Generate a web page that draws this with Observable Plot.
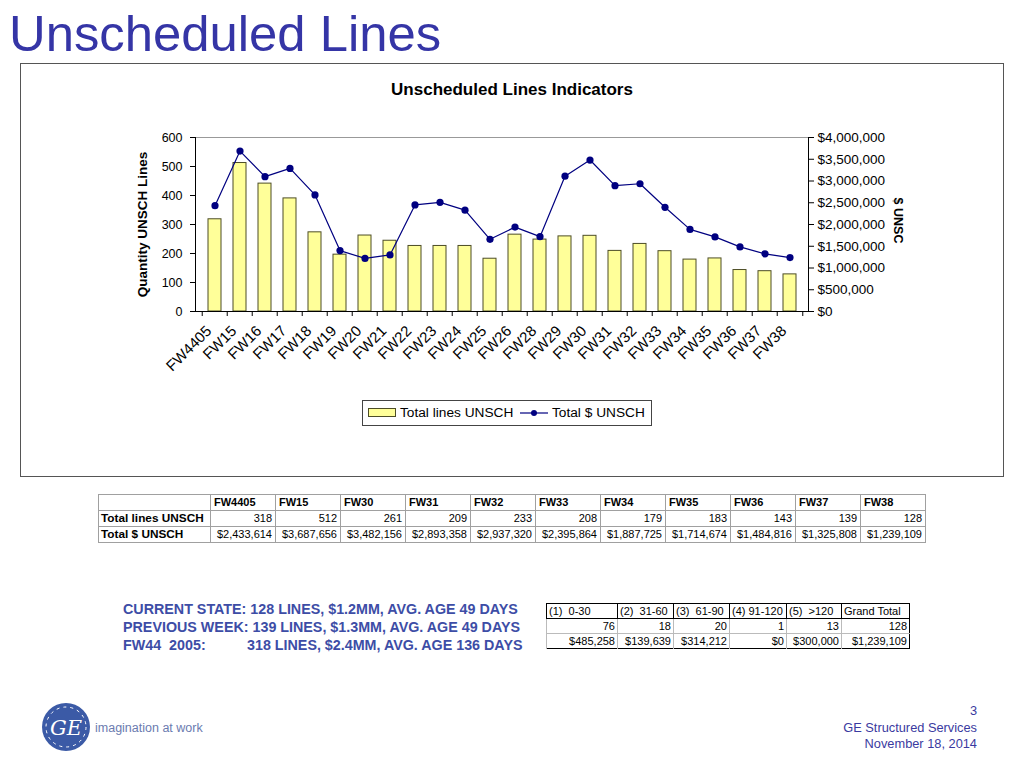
<!DOCTYPE html>
<html><head><meta charset="utf-8">
<script src="https://cdn.jsdelivr.net/npm/d3@7"></script>
<script src="https://cdn.jsdelivr.net/npm/@observablehq/plot@0.6"></script>
<style>
body{margin:0;background:#fff;font-family:"Liberation Sans",Arial,sans-serif;width:1024px;height:768px;position:relative;overflow:hidden;color:#000}
.abs{position:absolute}
#t1{border-collapse:collapse;font-size:11px;table-layout:fixed}
#t1 td{border:1px solid #a0a0a0;height:15px;padding:0 3px;white-space:nowrap;line-height:15px}
#t1 td.h{font-weight:bold;text-align:left}
#t1 td.r{font-weight:bold;text-align:left;font-size:11.8px;padding-left:2px}
#t1 td.v{text-align:right}
#t2{border-collapse:collapse;font-size:11px;table-layout:fixed;border:1.5px solid #000}
#t2 td{height:14px;padding:0 2px;white-space:nowrap;line-height:14px;text-align:right;border-left:1px solid #bbb;border-top:1px solid #bbb}
#t2 tr.hd td{border:1px solid #000;text-align:left}
#t2 td.gt{text-align:center}
.summary{color:#3d4da6;font-weight:bold;font-size:14.3px;line-height:18px}
.foot{color:#3a3aa0;font-size:12.8px;line-height:16.5px;text-align:right}
#legend span, #legend svg{position:absolute}
</style></head><body>
<div class="abs" style="left:9px;top:9px;font-size:50.8px;line-height:50px;color:#3535a6">Unscheduled Lines</div>
<div class="abs" style="left:20px;top:63px;width:984px;height:414px;border:1px solid #555;box-sizing:border-box"></div>
<div class="abs" style="left:0;top:81px;width:1024px;text-align:center;font-weight:bold;font-size:17px;line-height:17px">Unscheduled Lines Indicators</div>
<div id="chart" class="abs" style="left:100px;top:120px"></div>
<div id="legend" class="abs" style="left:362px;top:400px;width:290px;height:26px;border:1px solid #444;box-sizing:border-box;font-size:13.7px;line-height:16px"></div>
<table id="t1" class="abs" style="left:98px;top:494px"></table>
<div class="abs summary" style="left:123px;top:600px">
<div>CURRENT STATE: 128 LINES, $1.2MM, AVG. AGE 49 DAYS</div>
<div>PREVIOUS WEEK: 139 LINES, $1.3MM, AVG. AGE 49 DAYS</div>
<div><span style="display:inline-block;width:124px">FW44&nbsp; 2005:</span>318 LINES, $2.4MM, AVG. AGE 136 DAYS</div>
</div>
<table id="t2" class="abs" style="left:546px;top:603px"></table>
<svg class="abs" style="left:30px;top:695px" width="190" height="64">
<circle cx="36" cy="32" r="24" fill="#3b5aa6"/>
<circle cx="36" cy="32" r="20" fill="none" stroke="#fff" stroke-width="1" stroke-dasharray="3 4"/>
<text x="36" y="40" text-anchor="middle" fill="#fff" font-family="DejaVu Serif" font-style="italic" font-size="21">GE</text>
<text x="65" y="37" fill="#6b7bb0" font-family="Liberation Sans" font-size="12.5">imagination at work</text>
</svg>
<div class="abs foot" style="right:47px;top:703px">3<br>GE Structured Services<br>November 18, 2014</div>
<script>
const weeks = ["FW4405","FW15","FW16","FW17","FW18","FW19","FW20","FW21","FW22","FW23","FW24","FW25","FW26","FW28","FW29","FW30","FW31","FW32","FW33","FW34","FW35","FW36","FW37","FW38"];
const totalLines = [318,512,441,390,273,196,262,244,226,226,226,182,265,248,259,261,209,233,208,179,183,143,139,128];
const totalDollars = [2433614,3687656,3100000,3290000,2680000,1400000,1220000,1300000,2450000,2510000,2330000,1660000,1940000,1720000,3110000,3482156,2893358,2937320,2395864,1887725,1714674,1484816,1325808,1239109];
const leftTicks = [0,100,200,300,400,500,600];
const rightTicks = [0,500000,1000000,1500000,2000000,2500000,3000000,3500000,4000000];
const tableWeeks = ["FW4405","FW15","FW30","FW31","FW32","FW33","FW34","FW35","FW36","FW37","FW38"];
const ageBuckets = ["(1)  0-30","(2)  31-60","(3)  61-90","(4) 91-120","(5)  >120","Grand Total"];
const ageLines = [76,18,20,1,13,128];
const ageDollars = [485258,139639,314212,0,300000,1239109];

const fmtD = v => "$" + d3.format(",")(v);
const leftMax = 600, rightMax = 4000000, k = leftMax / rightMax;
const data = weeks.map((w, i) => ({week: w, lines: totalLines[i], dollars: totalDollars[i], yd: totalDollars[i] * k}));

const W = 860, H = 260, ml = 95, mr = 152, mt = 17, mb = 69;
const step = (W - ml - mr) / weeks.length;
const tickUnits = 5 * leftMax / (H - mt - mb);
const font = "'Liberation Sans', Arial, sans-serif";

const chart = Plot.plot({
  width: W, height: H, marginLeft: ml, marginRight: mr, marginTop: mt, marginBottom: mb,
  style: {fontFamily: font, fontSize: "12.5px", color: "#000", background: "transparent", overflow: "visible"},
  x: {type: "band", domain: weeks, paddingInner: 0.5, paddingOuter: 0.25},
  y: {domain: [0, leftMax]},
  marks: [
    Plot.ruleY([leftMax], {stroke: "#999"}),
    Plot.barY(data, {x: "week", y: "lines", fill: "#ffff99", stroke: "#4d4d26", strokeWidth: 1}),
    Plot.lineY(data, {x: "week", y: "yd", stroke: "#000080", strokeWidth: 1.2}),
    Plot.dot(data, {x: "week", y: "yd", r: 3.6, fill: "#000080", stroke: "none"}),
    Plot.frame({anchor: "left", stroke: "#000"}),
    Plot.frame({anchor: "right", stroke: "#000"}),
    Plot.frame({anchor: "bottom", stroke: "#000"}),
    Plot.ruleX(weeks, {x: d => d, y1: 0, y2: -tickUnits, dx: -step / 2, stroke: "#000"}),
    Plot.ruleX(weeks.slice(-1), {x: d => d, y1: 0, y2: -tickUnits, dx: step / 2, stroke: "#000"}),
    Plot.axisY(leftTicks, {anchor: "left", tickSize: 5, tickPadding: 8, label: null, fontSize: 12.5}),
    Plot.axisY(rightTicks.map(v => v * k), {anchor: "right", tickSize: 5, tickPadding: 4, label: null, fontSize: 13.5,
      tickFormat: v => fmtD(Math.round(v / k))}),
    Plot.axisX({tickSize: 0, tickPadding: 17, dx: -6, tickRotate: -45, label: null, fontSize: 15}),
    Plot.text(["Quantity UNSCH Lines"], {frameAnchor: "left", dx: -53, rotate: -90, textAnchor: "middle", fontWeight: "bold", fontSize: 13.5}),
    Plot.text(["$ UNSC"], {frameAnchor: "right", dx: 89, dy: -4, rotate: 90, textAnchor: "middle", fontWeight: "bold", fontSize: 12.5})
  ]
});
document.getElementById("chart").appendChild(chart);

// legend
document.getElementById("legend").innerHTML =
  `<svg width="30" height="12" style="left:5px;top:6px"><rect x="0.5" y="1.5" width="27" height="8" fill="#ffff99" stroke="#4d4d26"/></svg>` +
  `<span style="left:37px;top:4px">Total lines UNSCH</span>` +
  `<svg width="32" height="12" style="left:156px;top:6px"><line x1="1" x2="29" y1="6" y2="6" stroke="#000080" stroke-width="1.2"/><circle cx="15" cy="6" r="3" fill="#000080"/></svg>` +
  `<span style="left:189px;top:4px">Total $ UNSCH</span>`;

// table 1
const t1 = d3.select("#t1");
const cg = t1.append("colgroup");
cg.append("col").style("width", "112px");
tableWeeks.forEach(() => cg.append("col").style("width", "65px"));
const hr = t1.append("tr");
hr.append("td");
tableWeeks.forEach(w => hr.append("td").attr("class", "h").text(w));
const r1 = t1.append("tr");
r1.append("td").attr("class", "r").text("Total lines UNSCH");
tableWeeks.forEach(w => r1.append("td").attr("class", "v").text(totalLines[weeks.indexOf(w)]));
const r2 = t1.append("tr");
r2.append("td").attr("class", "r").text("Total $ UNSCH");
tableWeeks.forEach(w => r2.append("td").attr("class", "v").text(fmtD(totalDollars[weeks.indexOf(w)])));

// table 2
const t2 = d3.select("#t2");
const cg2 = t2.append("colgroup");
[71,56,56,57,55,68].forEach(w => cg2.append("col").style("width", w + "px"));
const h2 = t2.append("tr").attr("class", "hd");
ageBuckets.forEach((b, i) => h2.append("td").attr("class", i === ageBuckets.length - 1 ? "gt" : null).style("white-space", "pre").text(b));
const a1 = t2.append("tr");
ageLines.forEach(v => a1.append("td").text(v));
const a2 = t2.append("tr");
ageDollars.forEach(v => a2.append("td").text(fmtD(v)));
</script>
</body></html>
